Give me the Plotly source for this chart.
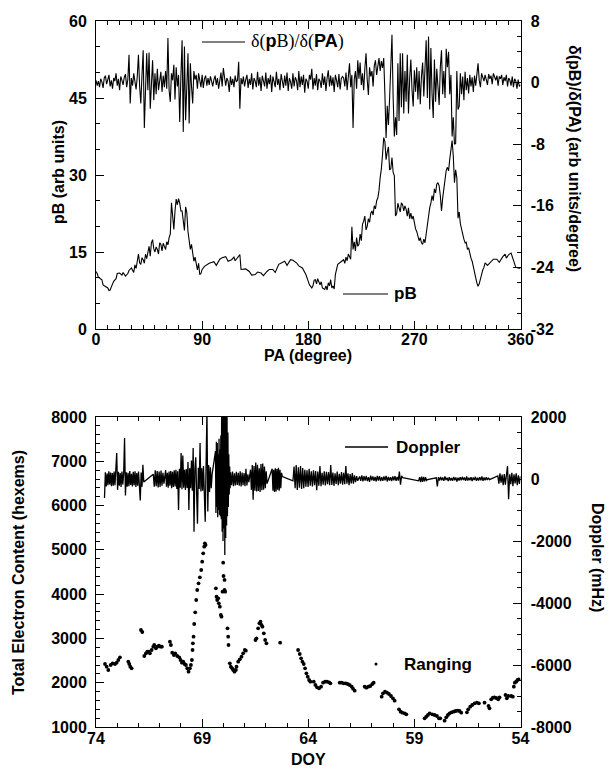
import numpy as np
import plotly.graph_objects as go

# ---------------- top panel data ----------------
PA_PB = [0, 1, 2, 3, 5, 6, 8, 10, 11, 12, 13, 15, 17, 18, 20, 22, 23, 25, 27, 28,
         30, 32, 33, 34, 35, 36, 37, 38, 39, 40, 41, 42, 43, 44, 45, 46, 47, 48, 49,
         50, 51, 52, 53, 54, 55, 56, 57, 58, 59, 60, 61, 62, 63, 64, 65, 66, 67, 68, 69,
         70, 71, 72, 73, 74, 75, 76, 77, 78, 79, 80, 81, 82, 83, 84, 85, 86, 87, 88, 89,
         90, 92, 96, 100, 102, 105, 107, 110, 112, 115, 117, 118, 120, 122, 123, 127,
         130, 132, 135, 137, 140, 142, 145, 147, 150, 152, 155, 157, 160, 162, 165, 167,
         170, 172, 175, 178, 180, 181, 183, 184, 185, 186, 187, 188, 190, 191, 192, 194,
         195, 196, 197, 198, 199, 200, 201, 202, 203, 205, 210, 211, 212, 213, 214, 215,
         216, 217, 218, 219, 220, 221, 222, 223, 224, 225, 226, 227, 228, 229, 230, 231,
         232, 233, 234, 235, 236, 237, 238, 239, 240, 241, 242, 243, 244, 245, 246, 247,
         248, 249, 250, 251, 252, 253, 254, 255, 256, 257, 258, 259, 260, 261, 262, 263,
         264, 265, 266, 267, 268, 269, 270, 271, 272, 273, 274, 275, 276, 277, 278, 279,
         280, 281, 282, 283, 284, 285, 286, 287, 288, 289, 290, 291, 292, 293, 294, 295,
         296, 297, 298, 299, 300, 301, 302, 303, 304, 305, 306, 307, 308, 309, 310, 311,
         312, 313, 314, 315, 316, 317, 318, 319, 320, 321, 322, 323, 324, 325, 326, 327,
         328, 329, 330, 332, 335, 337, 340, 342, 345, 347, 348, 350, 352, 353, 354, 355,
         356, 358, 360]
PB = [11.2, 10.8, 10.1, 9.9, 9.6, 8.6, 8.3, 8.0, 7.5, 7.6, 8.2, 9.3, 9.8, 10.8, 10.9, 10.5, 11.0, 10.3, 10.8, 11.4,
      11.9, 11.0, 12.5, 11.8, 13.2, 14.6, 12.9, 12.6, 13.9, 13.5, 12.8, 14.6, 13.7, 15.4, 16.1, 14.2, 16.8, 17.4, 15.6,
      15.0, 16.0, 15.5, 14.6, 16.8, 16.5, 15.2, 16.7, 16.1, 15.5, 17.0, 16.4, 17.8, 18.5, 24.6, 21.0, 19.4, 23.0, 25.3, 24.2,
      25.4, 24.5, 23.0, 23.0, 20.5, 19.2, 23.8, 22.7, 19.0, 17.1, 15.5, 16.5, 14.2, 13.2, 14.0, 12.6, 11.5, 12.8, 10.6, 10.8,
      11.6, 12.2, 12.8, 13.1, 12.4, 13.6, 13.9, 14.1, 13.2, 13.5, 14.0, 13.3, 13.8, 14.5, 11.6, 11.7,
      11.2, 10.5, 10.6, 11.1, 10.9, 10.4, 11.2, 11.6, 11.6, 11.0, 12.6, 12.9, 13.2, 12.4, 13.5, 13.4,
      12.9, 12.3, 11.9, 10.6, 9.3, 8.6, 8.0, 8.4, 9.5, 9.6, 8.8, 9.8, 8.6, 9.2, 8.0, 7.7,
      8.4, 7.6, 9.0, 8.4, 9.6, 8.0, 8.4, 7.8, 10.6, 12.6, 13.5, 12.8, 14.0, 13.3, 14.6, 14.2,
      13.6, 19.9, 15.5, 17.0, 15.2, 17.8, 16.1, 16.5, 18.5, 17.2, 20.4, 21.0, 22.0, 19.3, 20.0, 21.5,
      20.8, 22.5, 23.0, 22.2, 24.0, 23.4, 25.0, 25.5, 27.0, 29.5, 31.2, 34.0, 37.3, 36.5, 33.0, 34.5,
      35.5, 31.0, 31.2, 33.4, 30.5, 29.9, 22.0, 22.5, 24.5, 23.6, 22.8, 24.6, 24.2, 23.0, 24.0, 23.3,
      22.0, 23.6, 21.5, 22.6, 21.4, 22.0, 20.7, 19.5, 19.0, 18.1, 17.2, 17.8, 16.8, 16.5, 17.5, 16.8,
      18.7, 20.5, 22.0, 23.6, 24.5, 26.0, 25.0, 27.3, 26.5, 28.2, 28.5, 27.9, 26.0, 23.0, 25.5, 27.3,
      29.0, 30.9, 31.5, 30.8, 33.1, 34.5, 36.7, 33.7, 28.5, 31.0, 29.5, 21.6, 22.8, 20.5, 19.7, 18.5,
      17.5, 16.8, 16.9, 15.5, 15.8, 14.6, 13.8, 13.2, 11.9, 11.0, 10.0, 9.0, 8.3, 8.8, 9.8, 10.6,
      11.5, 12.0, 12.9, 12.4, 13.2, 13.6, 13.6, 13.0, 14.1, 14.6, 13.8, 14.5, 14.8, 14.0, 13.2, 12.6,
      12.0, 11.9, 11.8]

DERIV = [0.3, -0.4, 0.2, -0.6, 0.5, 0.1, -0.7, 0.6, 0.9, -0.2,
         0.4, 1.0, -0.5, 0.3, -0.8, 0.6, 0.2, 1.2, -0.4, 0.5,
         -1.0, 0.8, 0.3, -0.3, 0.7, 1.1, -0.6, 0.4, 3.6, -2.7,
         0.6, -0.4, 1.2, 0.2, -0.9, 0.8, 3.6, -0.5, -2.7, 1.0,
         4.2, -5.9, 1.2, 3.8, -1.0, 3.9, -3.4, 0.8, 2.9, -2.3,
         1.2, -1.5, 1.8, -1.0, 0.6, 1.4, -1.2, 0.9, -0.6, 1.5,
         -0.8, 5.8, -1.0, -2.5, 1.2, 0.3, 2.3, -2.2, 2.0, -0.5,
         1.0, -5.1, 0.8, 5.5, -6.4, 4.7, -4.9, 1.0, 3.8, -5.3,
         2.5, -0.5, -2.7, 1.5, 0.4, 1.0, -0.8, 1.2, 0.3, -0.6,
         1.0, -0.7, 0.5, 0.9, -0.4, 0.6, -0.3, 0.8, 0.2, -0.5,
         0.4, 0.9, -0.3, 0.6, -0.8, 0.5, 1.3, -0.5, 1.9, 0.7,
         -0.4, 0.6, 0.2, -1.2, 0.8, -0.3, 0.5, -0.6, 0.9, 0.1,
         0.3, 2.7, -3.4, 0.6, -0.2, 0.8, -0.5, 0.4, 1.0, -0.7,
         0.5, -0.3, 1.2, -0.9, 0.6, 0.2, -0.6, 1.4, -0.4, 0.7,
         -1.1, 0.9, 0.3, -0.5, 1.3, -0.8, 0.6, -0.2, 1.0, -1.2,
         0.8, 0.2, -0.6, 1.4, -0.3, 0.5, -1.0, 1.1, 0.4, -0.7,
         0.9, -0.4, 1.3, -1.1, 0.6, 0.1, -0.8, 1.2, -0.5, 0.7,
         0.3, -1.0, 1.5, -0.6, 0.8, -0.3, 1.0, -1.3, 0.5, 0.2,
         -0.8, 1.0, 0.4, 1.8, -0.9, 0.6, -0.4, 1.1, -1.0, 0.5,
         0.2, -0.7, 1.2, -0.3, 0.8, -1.1, 0.6, 1.6, -0.5, 0.9,
         -0.4, 0.7, -1.2, 1.0, 0.3, -0.6, 1.1, -0.9, 0.5, 0.8,
         0.6, -0.5, 1.3, -1.0, 0.8, 2.5, -0.6, 1.0, -5.9, 0.4,
         1.5, -0.8, 2.9, 0.5, 2.6, -0.3, 1.2, -1.0, 1.8, 3.8,
         0.4, -1.6, 2.0, 0.8, 1.5, -0.5, 2.2, 2.9, 1.0, 2.3,
         3.2, 1.5, 2.8, 1.9, 3.2, -1.5, -7.2, -3.0, -5.5, -2.0,
         1.5, 6.2, -2.0, -7.0, -4.5, -6.8, 2.5, -5.0, 3.8, -3.2,
         3.8, -4.0, 1.5, -2.5, 3.6, -4.0, 0.5, 3.0, -1.0, -3.1,
         1.6, -1.2, 2.0, -2.2, 1.5, -2.8, 0.8, 2.6, -1.8, 3.5,
         5.5, -2.0, 6.0, -3.5, 4.5, -1.5, -4.6, 3.0, -2.5, 1.8,
         -1.0, -2.9, 2.0, 4.2, -1.5, 1.5, -2.0, 4.4, 2.0, 4.0,
         -1.5, 1.0, -7.0, -4.5, -8.0, -7.9, 1.5, -3.5, -3.1, 1.2,
         -1.5, 0.8, -2.3, 1.4, -1.0, 0.6, -1.4, 1.0, -0.5, 0.7,
         -1.2, 0.9, -0.4, 1.3, 2.5, 0.3, -0.6, 1.2, 0.8, 0.2,
         1.0, 0.4, -0.3, 1.1, 0.5, 0.9, -0.2, 1.2, 0.6, 0.3,
         0.9, -0.4, 0.8, 0.5, 1.0, -0.3, 0.7, 0.2, 1.0, -0.5,
         0.6, 0.3, -0.4, 0.8, -0.6, 0.5, 0.2, -0.8, 0.4, -0.5,
         -0.3]
PA_DERIV = list(range(len(DERIV)))  # one sample per degree

# ---------------- bottom panel data ----------------
RANGE_DOY = [73.576, 73.498, 73.420, 73.310, 73.216, 73.106, 73.027, 72.949, 72.871,
             72.478, 72.431, 72.384, 72.322, 71.882, 71.820,
             71.725, 71.647, 71.584, 71.522, 71.459, 71.380, 71.302, 71.255, 71.176, 71.114, 71.035, 70.957, 70.894,
             70.518, 70.471, 70.408, 70.329, 70.267, 70.173, 70.078, 70.016, 69.953, 69.890, 69.827, 69.765,
             69.702, 69.639, 69.576, 69.529, 69.482, 69.451, 69.435, 69.404, 69.373, 69.325, 69.278, 69.231,
             69.169, 69.106, 69.043, 68.996, 68.949, 68.902, 68.871, 68.839,
             68.353, 68.322, 68.290, 68.243, 68.212, 68.165, 68.118, 68.086, 68.039, 68.008, 67.992, 67.945,
             67.945, 67.914, 67.804, 67.773, 67.757,
             67.694, 67.647, 67.584, 67.537, 67.475, 67.412, 67.380, 67.302, 67.224, 67.145, 67.067, 66.988, 66.941,
             66.486, 66.439, 66.361, 66.298, 66.251, 66.204, 66.157, 66.094, 66.031, 65.969,
             65.325,
             64.478, 64.400, 64.337, 64.275, 64.212, 64.149, 64.086, 64.024, 63.961, 63.898,
             63.741, 63.663, 63.584, 63.490, 63.396, 63.302, 63.208, 63.114, 63.020, 62.957,
             62.518, 62.424, 62.329, 62.235, 62.141, 62.047, 61.953, 61.890, 61.812,
             61.341, 61.263, 61.169, 61.075, 60.980, 60.918,
             60.541, 60.478, 60.384, 60.290, 60.196, 60.102, 60.008, 59.929,
             59.725, 59.647, 59.569, 59.459, 59.380,
             58.518, 58.439, 58.361, 58.282, 58.157, 58.047, 57.937, 57.843, 57.780,
             57.576, 57.498, 57.420, 57.341, 57.247, 57.153, 57.059, 56.965, 56.871, 56.792,
             56.525, 56.463, 56.369, 56.275, 56.165, 56.055, 55.961,
             55.694, 55.506, 55.459,
             55.380, 55.302, 55.224, 55.145, 55.051, 54.988,
             54.706, 54.643, 54.580, 54.439, 54.361, 54.314, 54.267, 54.204, 54.141, 54.078]
RANGE_TEC = [2423, 2362, 2287, 2400, 2438, 2423, 2453, 2513, 2573,
             2475, 2423, 2362, 2325, 3190, 3145,
             2603, 2664, 2701, 2701, 2664, 2739, 2814, 2852, 2777, 2814, 2837, 2814, 2814,
             2927, 2852, 2679, 2626, 2664, 2603, 2573, 2513, 2453, 2475, 2423, 2400,
             2325, 2250, 2325, 2400, 2513, 2739, 2889, 3040, 3326, 3589, 3868, 4094,
             4244, 4380, 4545, 4734, 4922, 5072, 5148, 5110,
             4131, 3943, 3868, 3906, 3793, 3717, 3529, 3492, 4056, 4711, 4410, 4320,
             4094, 4056, 3228, 3040, 2852,
             2438, 2362, 2325, 2287, 2250, 2287, 2362, 2475, 2528, 2588, 2664, 2739, 2724,
             2965, 3002, 3228, 3341, 3379, 3303, 3266, 3115, 2965, 2889,
             2904,
             2739, 2648, 2551, 2475, 2423, 2325, 2212, 2137, 2061, 2024,
             2024, 1948, 1896, 1873, 1911, 2001, 2024, 2024, 2009, 1986,
             2001, 2001, 1986, 1986, 1971, 1948, 1911, 1866, 1820,
             1911, 1888, 1911, 1926, 1971, 2001,
             1685, 1760, 1798, 1775, 1745, 1700, 1648, 1595,
             1399, 1346, 1324, 1309, 1286,
             1196, 1233, 1271, 1309, 1286, 1271, 1248, 1196, 1196,
             1143, 1218, 1271, 1309, 1331, 1346, 1361, 1369, 1361, 1324,
             1331, 1399, 1459, 1497, 1535, 1550, 1535,
             1550, 1474, 1422,
             1625, 1663, 1670, 1655, 1625, 1670,
             1723, 1648, 1700, 1700, 1685, 1911, 2001, 2024, 2061, 2077]

# Doppler bursts: (start DOY, end DOY) and the values read across each burst (mHz)
DOP_SPANS = [(73.60, 71.75), (71.30, 70.80), (70.72, 68.53), (68.37, 67.66), (67.66, 66.80),
             (66.72, 65.94), (65.70, 65.22), (64.72, 61.67), (61.58, 59.55), (58.80, 58.38),
             (57.97, 55.46), (55.07, 54.00)]
DOP_VALUES = [
    [-610, 220, -240, 180, -200, 250, -180, 210, -230, 190,
     -220, 240, -200, 260, 840, -350, 230, -220, 190, -260,
     240, -180, 200, 1320, -530, 220, -250, 200, -230, 260,
     -190, 170, -240, 230, -200, 250, -260, 190, -220, 240,
     -180, -690, 210, -250, 460, -100],
    [150, -250, 280, -230, 260, -270, 240, -260, 270, -220, 200, -150],
    [290, -250, 200, -280, 240, -220, 260, -300, 230, -260,
     280, -240, 300, -320, 250, -1000, 330, -280, 840, -330,
     760, -280, 300, -350, 320, -290, 550, -1000, 350, -300,
     600, -380, 1000, -1700, 340, 700, -400, -1440, 360, -320,
     1160, -400, 350, -380, 420, -1100, -1380, 450, 2200, -1050,
     450, -420, 380, -300, 150],
    [900, -1100, 1200, -900, 1160, -1230, 800, -1000, 1300, -1150, 950, -1200, 1400, -1300, 2600, -1700,
     2800, -2000, 2500, -1600, 3000, -2450, 2700, -1900, 2400, -1500, 2200, -1200, 1500, -900, 800, -500,
     400, -300, 200],
    [220, -200, 240, -230, 180, -210, 230, -190, 200, -220, 250, -240, 210, -200, 190, -230, 330, -210,
     150, -100],
    [300, -350, 450, -670, 420, -380, 530, -400, 460, -390, 350, -420, 480, -360, 500, -350, 400, -300,
     250, -150],
    [330, -380, 300, -420, 350, -400, 320, -350, 360, -380, 300, -300, 200, 80],
    [-60, 400, -300, 450, -350, 380, -280, 420, -320, 350, -300, 300, -250, 280, -260, 330, -220, 250, -240,
     280, -200, 260, -360, 240, -220, 420, -230, 200, -180, 250, -210, 230, -170, 220, -200, 450, -190,
     210, -220, 180, -160, 240, -200, 170, -150, 220, -180, 200, -170, 420, -150, 180, -200, 160, -140,
     190, -150, 120, -100, 90, -60],
    [80, -60, 120, -80, 90, -50, 100, -70, 60, -90, 110, -40, 80, -60, 70, -80, 100, -50, 90, -70, 60, -60,
     80, -40, 100, -80, 70, -50, 60, -70, 80, -40, 90, -60, 70, -50, 240, -180, 100, 40],
    [-60, 60, -100, 80, -90, 70, -80, 60, -50, -20],
    [40, -240, 60, -50, 70, -40, 50, -60, 80, -30, 40, -70, 60, -50, 30, -60, 70, -40, 50, -80, 40, -50,
     60, -40, 70, -30, 50, -60, 80, -50, 40, -40, 60, -70, 50, -30, 70, -60, 40, -50, 60, -40, 80, -60,
     50, -40, 60, -30, 40, -20],
    [100, -150, 180, -120, 140, -200, 160, -180, 130, 420, -650, 150, -170, 200, -230, 150, -140, 180,
     -200, 120, -160, 90],
]

# ---------------- geometry helpers ----------------
W, H = 613, 769


def fx(p):
    return p / W


def fy(p):
    return 1 - p / H


X0, X1 = 96, 520.5
TOP_T, TOP_B = 21, 329
BOT_T, BOT_B = 417, 727

FONT = "Liberation Sans, Arial, sans-serif"
TICKFONT = dict(family=FONT, size=16, color="black", weight="bold")

dop_x, dop_y = [], []
for (a, b), vals in zip(DOP_SPANS, DOP_VALUES):
    dop_x.extend(np.linspace(a, b, len(vals)).tolist())
    dop_y.extend(vals)

fig = go.Figure()
fig.add_trace(go.Scatter(x=PA_DERIV, y=DERIV, xaxis="x", yaxis="y2", mode="lines",
                         line=dict(color="black", width=1.1), showlegend=False))
fig.add_trace(go.Scatter(x=PA_PB, y=PB, xaxis="x", yaxis="y", mode="lines",
                         line=dict(color="black", width=1.1), showlegend=False))
fig.add_trace(go.Scatter(x=dop_x, y=dop_y, xaxis="x2", yaxis="y4", mode="lines",
                         line=dict(color="black", width=1.3), showlegend=False))
fig.add_trace(go.Scatter(x=RANGE_DOY, y=RANGE_TEC, xaxis="x2", yaxis="y3", mode="markers",
                         marker=dict(color="black", size=3.8), showlegend=False))

ax_common = dict(showline=True, linecolor="black", linewidth=1, ticks="inside", ticklen=8,
                 tickwidth=1, tickcolor="black", showgrid=False, zeroline=False, tickfont=TICKFONT,
                 fixedrange=True, automargin=False)


def minor(d, t0=0):
    return dict(dtick=d, tick0=t0, ticks="inside", ticklen=4, tickcolor="black", tickwidth=1,
                showgrid=False)


fig.update_layout(
    width=W, height=H, autosize=False,
    margin=dict(l=0, r=0, t=0, b=0, pad=0, autoexpand=False),
    paper_bgcolor="white", plot_bgcolor="white",
    xaxis=dict(domain=[fx(X0), fx(X1)], anchor="y", range=[0, 360], tick0=0, dtick=90,
               minor=minor(10), mirror="ticks", ticklabelstandoff=-4, **ax_common),
    yaxis=dict(domain=[fy(TOP_B), fy(TOP_T)], anchor="x", range=[0, 60], tick0=0, dtick=15,
               minor=minor(5), ticklabelstandoff=5, **ax_common),
    yaxis2=dict(overlaying="y", anchor="x", side="right", range=[-32, 8],
                tickmode="array", tickvals=[-32, -24, -16, -8, 0, 8],
                ticktext=["-32", "-24", "-16", "-8", "0", "8"],
                minor=dict(tickmode="linear", **minor(2, 0)), ticklabelstandoff=6, **ax_common),
    xaxis2=dict(domain=[fx(X0), fx(X1)], anchor="y3", range=[74, 54], tick0=54, dtick=5,
                minor=minor(1, 54), mirror="ticks", ticklabelstandoff=-3, **ax_common),
    yaxis3=dict(domain=[fy(BOT_B), fy(BOT_T)], anchor="x2", range=[1000, 8000], tick0=1000, dtick=1000,
                minor=minor(200, 1000), ticklabelstandoff=5, **ax_common),
    yaxis4=dict(overlaying="y3", anchor="x2", side="right", range=[-8000, 2000],
                tickmode="array", tickvals=[-8000, -6000, -4000, -2000, 0, 2000],
                ticktext=["-8000", "-6000", "-4000", "-2000", "0", "2000"],
                minor=dict(tickmode="linear", **minor(500, 0)), ticklabelstandoff=6, **ax_common),
)

TITLEFONT = dict(family=FONT, size=16, color="black", weight="bold")
ann = []


def add_text(text, x, y, xanchor="center", yanchor="middle", angle=0, font=TITLEFONT):
    ann.append(dict(text=text, x=fx(x), y=fy(y), xref="paper", yref="paper", showarrow=False,
                    xanchor=xanchor, yanchor=yanchor, textangle=angle, font=font))


add_text("pB (arb units)", 59, 172, angle=-90)
add_text("PA (degree)", 308, 355)
add_text("δ(pB)/δ(PA) (arb units/degree)", 575, 158, angle=90)
add_text("Total Electron Content (hexems)", 18, 573, angle=-90)
add_text("DOY", 308, 759)
add_text("Doppler (mHz)", 598, 557, angle=90)

serif = dict(family="Liberation Serif, Times New Roman, serif", size=18, color="black")
add_text('δ(<span style="font-family:Liberation Sans;font-weight:bold">p</span>B)/δ('
         '<span style="font-family:Liberation Sans;font-weight:bold">PA</span>)',
         249, 42, xanchor="left", font=serif)
legfont = dict(family=FONT, size=17, color="black", weight="bold")
add_text("pB", 392, 294, xanchor="left", font=legfont)
add_text("Doppler", 394, 447, xanchor="left", font=legfont)
add_text("Ranging", 402, 664, xanchor="left", font=legfont)
fig.update_layout(annotations=ann)

shapes = [
    dict(type="line", xref="paper", yref="paper", x0=fx(202), x1=fx(245), y0=fy(42), y1=fy(42),
         line=dict(color="black", width=1)),
    dict(type="line", xref="paper", yref="paper", x0=fx(343), x1=fx(388), y0=fy(294), y1=fy(294),
         line=dict(color="black", width=1)),
    dict(type="line", xref="paper", yref="paper", x0=fx(345), x1=fx(388), y0=fy(447), y1=fy(447),
         line=dict(color="black", width=1.5)),
    dict(type="circle", xref="paper", yref="paper", x0=fx(374.5), x1=fx(377.5), y0=fy(662.5),
         y1=fy(665.5), fillcolor="black", line=dict(color="black", width=0)),
]
fig.update_layout(shapes=shapes)

fig.write_html("out.html", config={"displayModeBar": False},
               post_script="document.body.style.margin='0';document.body.style.padding='0';"
                           "document.body.style.overflow='hidden';")
